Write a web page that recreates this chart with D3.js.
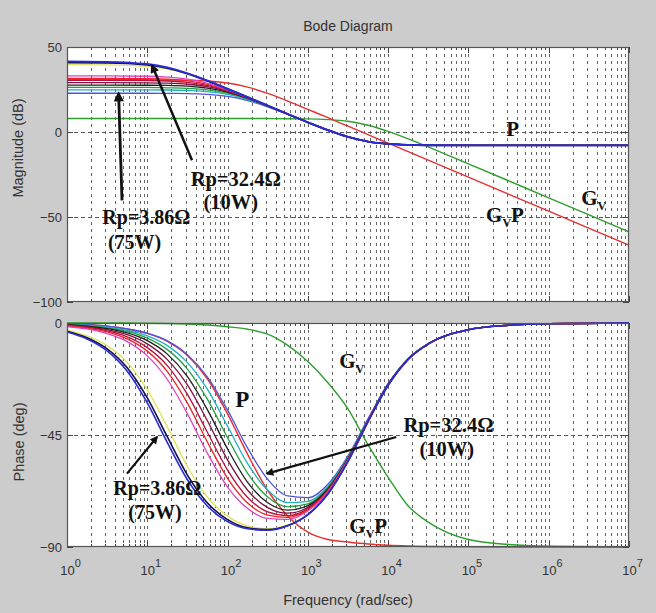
<!DOCTYPE html>
<html>
<head>
<meta charset="utf-8">
<script src="https://cdn.jsdelivr.net/npm/d3@7"></script>
<style>
  body { margin: 0; background: #cccccc; }
  svg { display: block; }
  .lbl { font-family: Arial, "Liberation Sans", sans-serif; fill: #333; }
  .note { font-family: "Times New Roman", "Liberation Serif", serif; font-weight: bold; fill: #111; }
</style>
</head>
<body>
<div id="chart-area"></div>
<script>
// frequencies are log10(rad/sec)

// ---- magnitude (dB) ----
const magFreq = [0, 0.5, 1, 1.25, 1.5, 1.75, 2, 2.25, 2.5, 2.75, 3, 3.25, 3.5, 3.75, 4, 4.25, 4.5, 5, 6, 7]

const magP1  = [41.5, 41.3, 40.0, 38.0, 34.5, 30.2, 25.4, 20.5, 15.5, 10.6, 5.7, 1.1, -2.9, -5.6, -7.0, -7.6, -7.8, -7.9, -7.9, -7.9]
const magP2  = [40.8, 40.7, 39.5, 37.6, 34.4, 30.1, 25.4, 20.5, 15.5, 10.6, 5.7, 1.1, -2.9, -5.6, -7.0, -7.6, -7.8, -7.9, -7.9, -7.9]
const magP3  = [39.6, 39.5, 38.6, 37.0, 34.1, 30.0, 25.3, 20.4, 15.5, 10.6, 5.7, 1.1, -2.9, -5.6, -7.0, -7.6, -7.8, -7.9, -7.9, -7.9]
const magP4  = [33.0, 33.0, 32.8, 32.3, 31.1, 28.6, 24.8, 20.3, 15.4, 10.5, 5.7, 1.1, -2.9, -5.6, -7.0, -7.6, -7.8, -7.9, -7.9, -7.9]
const magP5  = [31.6, 31.6, 31.4, 31.1, 30.1, 28.0, 24.6, 20.2, 15.4, 10.5, 5.7, 1.1, -2.9, -5.6, -7.0, -7.6, -7.8, -7.9, -7.9, -7.9]
const magP6  = [30.4, 30.4, 30.3, 30.0, 29.2, 27.4, 24.3, 20.1, 15.4, 10.5, 5.7, 1.1, -2.9, -5.6, -7.0, -7.6, -7.8, -7.9, -7.9, -7.9]
const magP7  = [29.0, 29.0, 28.9, 28.7, 28.1, 26.7, 23.9, 19.9, 15.3, 10.5, 5.7, 1.1, -2.9, -5.6, -7.0, -7.6, -7.8, -7.9, -7.9, -7.9]
const magP8  = [27.6, 27.6, 27.5, 27.4, 27.0, 25.8, 23.4, 19.7, 15.2, 10.5, 5.7, 1.1, -2.9, -5.6, -7.0, -7.6, -7.8, -7.9, -7.9, -7.9]
const magP9  = [26.2, 26.2, 26.2, 26.0, 25.7, 24.8, 22.8, 19.5, 15.1, 10.4, 5.6, 1.1, -2.9, -5.6, -7.0, -7.6, -7.8, -7.9, -7.9, -7.9]
const magP10 = [24.8, 24.8, 24.8, 24.7, 24.4, 23.8, 22.1, 19.1, 15.0, 10.4, 5.6, 1.0, -2.9, -5.6, -7.0, -7.6, -7.8, -7.9, -7.9, -7.9]
const magP11 = [22.8, 22.8, 22.8, 22.7, 22.6, 22.1, 20.9, 18.5, 14.8, 10.3, 5.6, 1.0, -2.9, -5.6, -7.0, -7.6, -7.8, -7.9, -7.9, -7.9]
const magGv  = [7.9, 7.9, 7.9, 7.9, 7.9, 7.9, 7.9, 7.9, 7.9, 7.8, 7.7, 7.3, 6.3, 4.0, 0.4, -4.0, -8.8, -18.7, -38.7, -58.7]
const magGvP = [30.7, 30.7, 30.7, 30.6, 30.5, 30.0, 28.8, 26.4, 22.7, 18.2, 13.3, 8.4, 3.4, -1.6, -6.6, -11.6, -16.6, -26.6, -46.6, -66.6]

// ---- phase (deg) ----
const phaseFreq = [0, 0.25, 0.5, 0.75, 1, 1.25, 1.5, 1.75, 2, 2.25, 2.5, 2.75, 3, 3.25, 3.5, 3.75, 4, 4.25, 4.5, 5, 5.5, 6, 7]

const phP1  = [-3.6, -6.4, -11.2, -19.4, -32.1, -48.1, -63.0, -73.6, -79.8, -82.7, -83.3, -81.5, -77.0, -68.7, -55.6, -39.6, -25.0, -14.6, -8.4, -2.7, -0.9, -0.3, 0]
const phP2  = [-3.3, -5.9, -10.4, -18.0, -30.1, -45.8, -61.1, -72.3, -79.0, -82.3, -83.0, -81.4, -77.0, -68.6, -55.6, -39.6, -25.0, -14.6, -8.4, -2.7, -0.9, -0.3, 0]
const phP3  = [-2.9, -5.2, -9.1, -15.8, -26.8, -41.8, -57.7, -70.0, -77.6, -81.5, -82.6, -81.1, -76.8, -68.6, -55.5, -39.6, -25.0, -14.6, -8.4, -2.7, -0.9, -0.3, 0]
const phP4  = [-1.4, -2.4, -4.3, -7.5, -13.2, -22.7, -36.5, -52.4, -65.9, -74.5, -78.5, -78.9, -75.5, -67.8, -55.1, -39.3, -24.9, -14.5, -8.4, -2.7, -0.9, -0.3, 0]
const phP5  = [-1.2, -2.1, -3.6, -6.4, -11.3, -19.5, -32.2, -47.9, -62.4, -72.3, -77.2, -78.1, -75.1, -67.6, -55.0, -39.3, -24.9, -14.5, -8.4, -2.7, -0.9, -0.3, 0]
const phP6  = [-1.0, -1.8, -3.2, -5.6, -9.9, -17.1, -28.7, -44.0, -59.1, -70.1, -75.9, -77.4, -74.7, -67.4, -54.9, -39.2, -24.8, -14.5, -8.4, -2.7, -0.9, -0.3, 0]
const phP7  = [-0.9, -1.5, -2.7, -4.7, -8.4, -14.7, -24.9, -39.4, -55.0, -67.2, -74.2, -76.4, -74.1, -67.1, -54.7, -39.2, -24.8, -14.5, -8.4, -2.7, -0.9, -0.3, 0]
const phP8  = [-0.7, -1.3, -2.3, -4.0, -7.1, -12.5, -21.5, -34.9, -50.6, -64.0, -72.2, -75.2, -73.4, -66.7, -54.5, -39.1, -24.7, -14.4, -8.4, -2.7, -0.9, -0.3, 0]
const phP9  = [-0.6, -1.1, -2.0, -3.4, -6.1, -10.7, -18.5, -30.7, -46.1, -60.4, -69.9, -73.8, -72.7, -66.2, -54.2, -39.0, -24.6, -14.4, -8.3, -2.7, -0.9, -0.3, 0]
const phP10 = [-0.5, -0.9, -1.7, -3.0, -5.2, -9.1, -15.9, -26.7, -41.5, -56.5, -67.2, -72.2, -71.7, -65.7, -53.9, -38.9, -24.5, -14.3, -8.3, -2.7, -0.9, -0.3, 0]
const phP11 = [-0.4, -0.7, -1.3, -2.4, -4.1, -7.2, -12.7, -21.7, -35.0, -50.3, -62.8, -69.5, -70.2, -64.8, -53.4, -38.4, -24.3, -14.3, -8.3, -2.7, -0.9, -0.3, 0]
const phGv  = [0, 0, 0, 0, -0.1, -0.2, -0.4, -0.8, -1.5, -2.5, -4.5, -9.0, -15.5, -24.0, -34.5, -49.0, -62.0, -73.5, -80.0, -87.0, -89.0, -89.7, -90]
const phGvP = [-0.4, -0.7, -1.3, -2.4, -4.2, -7.4, -13.1, -22.5, -36.5, -52.8, -67.3, -77.5, -84.0, -87.0, -88.0, -88.8, -89.3, -89.6, -89.8, -89.9, -90, -90, -90]

// P curves in drawing order (last one on top)
const pColors = ["#5252e0", "#1fb0c4", "#22a040", "#1e1e1e", "#7d1040", "#b8103c", "#ee2222", "#e040c0", "#e2e25a", "#12124e", "#2b2bd9"]
const pMag = [magP11, magP10, magP9, magP8, magP7, magP6, magP5, magP4, magP3, magP2, magP1]
const pPhase = [phP11, phP10, phP9, phP8, phP7, phP6, phP5, phP4, phP3, phP2, phP1]

const magTicks = [50, 0, -50, -100]
const phaseTicks = [0, -45, -90]
const decades = [0, 1, 2, 3, 4, 5, 6, 7]

const WIDTH = 656, HEIGHT = 613
const X0 = 67, X1 = 629
const MAG = { TOP: 47, BOT: 302 }
const PH = { TOP: 323, BOT: 547 }

const svg = d3.select("#chart-area").append("svg")
  .attr("width", WIDTH)
  .attr("height", HEIGHT)

svg.append("rect").attr("width", WIDTH).attr("height", HEIGHT).attr("fill", "#cccccc")

const defs = svg.append("defs")
defs.append("marker")
  .attr("id", "head")
  .attr("viewBox", "0 0 10 10")
  .attr("refX", 8).attr("refY", 5)
  .attr("markerWidth", 4.2).attr("markerHeight", 3.6)
  .attr("orient", "auto")
  .append("path").attr("d", "M0,0L10,5L0,10z").attr("fill", "#111")

// scales
const x = d3.scaleLog().domain([1, 1e7]).range([X0, X1])
const yMag = d3.scaleLinear().domain([-100, 50]).range([MAG.BOT, MAG.TOP])
const yPh = d3.scaleLinear().domain([-90, 0]).range([PH.BOT, PH.TOP])

// minor grid positions 2..9 x 10^k, plus decades
const gridFreqs = []
d3.range(0, 7).forEach(k => d3.range(1, 10).forEach(m => gridFreqs.push(m * 10 ** k)))
const innerGrid = gridFreqs.filter(f => f > 1 && f < 1e7)

function drawPanel(y, top, bot, hGrid) {
  const g = svg.append("g")
  g.append("rect")
    .attr("x", X0).attr("y", top)
    .attr("width", X1 - X0).attr("height", bot - top)
    .attr("fill", "#fff")

  // vertical dotted grid
  g.selectAll(".vgrid").data(innerGrid).enter().append("line")
    .attr("x1", d => Math.round(x(d)) + 0.5).attr("x2", d => Math.round(x(d)) + 0.5)
    .attr("y1", top).attr("y2", bot)
    .attr("stroke", "#666").attr("stroke-width", 1)
    .attr("stroke-dasharray", "3,4")

  // horizontal dotted grid
  g.selectAll(".hgrid").data(hGrid).enter().append("line")
    .attr("x1", X0).attr("x2", X1)
    .attr("y1", d => Math.round(y(d)) + 0.5).attr("y2", d => Math.round(y(d)) + 0.5)
    .attr("stroke", "#555").attr("stroke-width", 1)
    .attr("stroke-dasharray", "4,3")

  // x tick marks on top and bottom edges
  gridFreqs.concat([1e7]).forEach(f => {
    const len = Number.isInteger(Math.log10(f)) ? 6 : 3
    const px = Math.round(x(f)) + 0.5
    g.append("line").attr("x1", px).attr("x2", px).attr("y1", top).attr("y2", top + len)
      .attr("stroke", "#444")
    g.append("line").attr("x1", px).attr("x2", px).attr("y1", bot).attr("y2", bot - len)
      .attr("stroke", "#444")
  })
  return g
}

function drawFrame(top, bot, y, ticks) {
  ticks.forEach(t => {
    const py = Math.round(y(t)) + 0.5
    svg.append("line").attr("x1", X0).attr("x2", X0 + 6).attr("y1", py).attr("y2", py).attr("stroke", "#444")
    svg.append("line").attr("x1", X1).attr("x2", X1 - 6).attr("y1", py).attr("y2", py).attr("stroke", "#444")
  })
  svg.append("rect")
    .attr("x", X0 + 0.5).attr("y", top + 0.5)
    .attr("width", X1 - X0 - 1).attr("height", bot - top - 1)
    .attr("fill", "none").attr("stroke", "#555").attr("stroke-width", 1.2)
}

drawPanel(yMag, MAG.TOP, MAG.BOT, [0, -50])
drawPanel(yPh, PH.TOP, PH.BOT, [-45])

// line generators
const magLine = d3.line()
  .x(d => x(10 ** d[0]))
  .y(d => yMag(d[1]))
  .curve(d3.curveMonotoneX)
const phLine = d3.line()
  .x(d => x(10 ** d[0]))
  .y(d => yPh(d[1]))
  .curve(d3.curveMonotoneX)

const zipMag = vals => magFreq.map((f, i) => [f, vals[i]])
const zipPh = vals => phaseFreq.map((f, i) => [f, vals[i]])

function curve(gen, pts, color, w) {
  svg.append("path")
    .attr("d", gen(pts))
    .attr("fill", "none")
    .attr("stroke", color)
    .attr("stroke-width", w)
}

// Gv and GvP
curve(magLine, zipMag(magGv), "#2e9e2e", 1.4)
curve(magLine, zipMag(magGvP), "#e53030", 1.4)
curve(phLine, zipPh(phGv), "#2e9e2e", 1.4)
curve(phLine, zipPh(phGvP), "#e53030", 1.4)

// P for every Rp
pMag.forEach((vals, i) => curve(magLine, zipMag(vals), pColors[i], i >= 9 ? 1.8 : 1.3))
pPhase.forEach((vals, i) => curve(phLine, zipPh(vals), pColors[i], i >= 9 ? 1.6 : 1.3))

drawFrame(MAG.TOP, MAG.BOT, yMag, magTicks)
drawFrame(PH.TOP, PH.BOT, yPh, phaseTicks)

// y axes
function yAxis(y, ticks) {
  const ax = svg.append("g")
    .attr("class", "lbl")
    .attr("transform", `translate(${X0}, 0)`)
    .call(d3.axisLeft(y).tickValues(ticks).tickSize(0).tickPadding(5))
  ax.select(".domain").remove()
  ax.attr("font-size", 13).attr("font-family", "Arial, 'Liberation Sans', sans-serif")
  ax.selectAll("text").attr("fill", "#333")
}
yAxis(yMag, magTicks)
yAxis(yPh, phaseTicks)

// x axis 10^k labels
const xAx = svg.append("g")
  .attr("transform", `translate(0, ${PH.BOT})`)
  .call(d3.axisBottom(x).tickValues(decades.map(k => 10 ** k)).tickSize(0).tickPadding(19).tickFormat(""))
xAx.select(".domain").remove()
xAx.attr("font-size", 13).attr("font-family", "Arial, 'Liberation Sans', sans-serif")
xAx.selectAll(".tick text").each(function(d) {
  const t = d3.select(this).attr("fill", "#333").attr("dx", 3)
  t.append("tspan").text("10")
  t.append("tspan").attr("dy", "-0.75em").attr("font-size", "11px").text(Math.round(Math.log10(d)))
})

// titles
svg.append("text").attr("class", "lbl")
  .attr("x", 348).attr("y", 31)
  .attr("text-anchor", "middle").attr("font-size", 14)
  .text("Bode Diagram")
svg.append("text").attr("class", "lbl")
  .attr("x", 348).attr("y", 605)
  .attr("text-anchor", "middle").attr("font-size", 14.5)
  .text("Frequency  (rad/sec)")
svg.append("text").attr("class", "lbl")
  .attr("transform", "translate(23, 148) rotate(-90)")
  .attr("text-anchor", "middle").attr("font-size", 14.5)
  .text("Magnitude (dB)")
svg.append("text").attr("class", "lbl")
  .attr("transform", "translate(24, 442) rotate(-90)")
  .attr("text-anchor", "middle").attr("font-size", 14.5)
  .text("Phase (deg)")

// annotations, placed in data coordinates
function note(y, l, v, str, size, bold) {
  return svg.append("text").attr("class", "note")
    .attr("x", x(10 ** l)).attr("y", y(v))
    .attr("font-size", size)
    .attr("font-weight", bold === false ? "normal" : "bold")
    .text(str)
}
function gLabel(y, l, v, withP) {
  const t = svg.append("text").attr("class", "note")
    .attr("x", x(10 ** l)).attr("y", y(v)).attr("font-size", 21)
  t.append("tspan").text("G")
  t.append("tspan").attr("dy", 5).attr("font-size", 12).text("V")
  if (withP) t.append("tspan").attr("dy", -5).text("P")
}
function arrow(y, from, to, w) {
  svg.append("line")
    .attr("x1", x(10 ** from[0])).attr("y1", y(from[1]))
    .attr("x2", x(10 ** to[0])).attr("y2", y(to[1]))
    .attr("stroke", "#111").attr("stroke-width", w)
    .attr("marker-end", "url(#head)")
}

// magnitude panel
note(yMag, 1.54, -32, "Rp=32.4Ω", 20.5)
note(yMag, 1.70, -45.5, "(10W)", 20.5)
note(yMag, 0.44, -54.3, "Rp=3.86Ω", 20)
note(yMag, 0.51, -68.6, "(75W)", 20)
note(yMag, 5.47, -2.5, "P", 21)
gLabel(yMag, 6.405, -43, false)
gLabel(yMag, 5.22, -53, true)
arrow(yMag, [0.685, -40.2], [0.643, 22.8], 2.8)
arrow(yMag, [1.557, -16.6], [1.059, 39.2], 2.5)

// phase panel
note(yPh, 2.096, -33.9, "P", 23, false)
note(yPh, 0.577, -69.2, "Rp=3.86Ω", 20)
note(yPh, 0.763, -78.9, "(75W)", 20)
note(yPh, 4.19, -43.9, "Rp=32.4Ω", 20.5)
note(yPh, 4.39, -53.6, "(10W)", 20.5)
gLabel(yPh, 3.39, -18.2, false)
gLabel(yPh, 3.516, -84.5, true)
arrow(yPh, [0.747, -60.5], [1.121, -45.8], 2.2)
arrow(yPh, [4.101, -45.8], [2.491, -60.5], 2.2)
</script>
</body>
</html>
